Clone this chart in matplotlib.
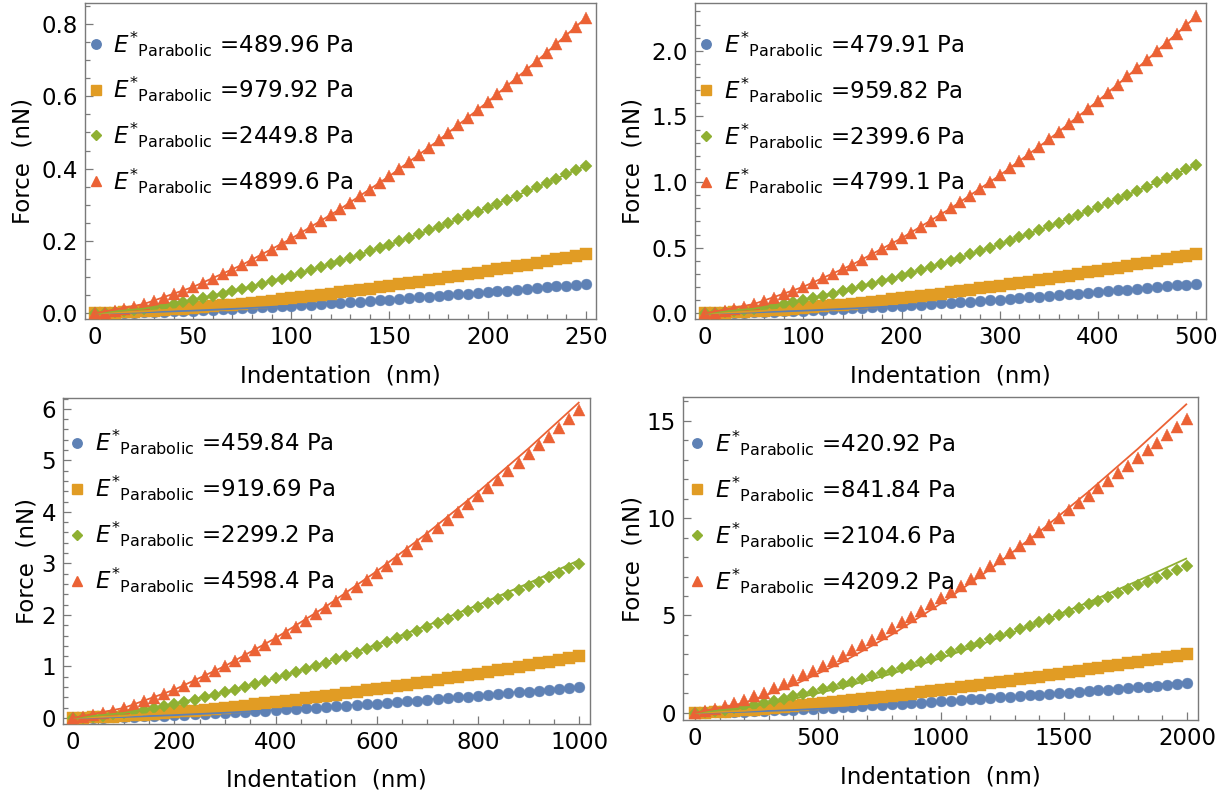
import matplotlib
matplotlib.use("Agg")
import matplotlib.pyplot as plt
from matplotlib.lines import Line2D
from matplotlib.ticker import MultipleLocator, FormatStrFormatter

plt.rcParams['font.family'] = ['DejaVu Sans']
plt.rcParams['mathtext.fontset'] = 'dejavusans'

# ---------------- data (nm, nN) ----------------
indent_250 = [0, 5, 10, 15, 20, 25, 30, 35, 40, 45, 50, 55, 60, 65, 70, 75, 80, 85, 90, 95, 100,
              105, 110, 115, 120, 125, 130, 135, 140, 145, 150, 155, 160, 165, 170, 175, 180, 185,
              190, 195, 200, 205, 210, 215, 220, 225, 230, 235, 240, 245, 250]
indent_500 = [0, 10, 20, 30, 40, 50, 60, 70, 80, 90, 100, 110, 120, 130, 140, 150, 160, 170, 180,
              190, 200, 210, 220, 230, 240, 250, 260, 270, 280, 290, 300, 310, 320, 330, 340, 350,
              360, 370, 380, 390, 400, 410, 420, 430, 440, 450, 460, 470, 480, 490, 500]
indent_1000 = [0, 20, 40, 60, 80, 100, 120, 140, 160, 180, 200, 220, 240, 260, 280, 300, 320, 340,
               360, 380, 400, 420, 440, 460, 480, 500, 520, 540, 560, 580, 600, 620, 640, 660, 680,
               700, 720, 740, 760, 780, 800, 820, 840, 860, 880, 900, 920, 940, 960, 980, 1000]
indent_2000 = [0, 40, 80, 120, 160, 200, 240, 280, 320, 360, 400, 440, 480, 520, 560, 600, 640,
               680, 720, 760, 800, 840, 880, 920, 960, 1000, 1040, 1080, 1120, 1160, 1200, 1240,
               1280, 1320, 1360, 1400, 1440, 1480, 1520, 1560, 1600, 1640, 1680, 1720, 1760, 1800,
               1840, 1880, 1920, 1960, 2000]

# panel A (0-250 nm)
a_blue = [0, 0.0002, 0.0007, 0.0012, 0.0018, 0.0026, 0.0034, 0.0043, 0.0052, 0.0062, 0.0073, 0.0084,
          0.0096, 0.0108, 0.0121, 0.0134, 0.0148, 0.0162, 0.0176, 0.0191, 0.0207, 0.0222, 0.0238,
          0.0255, 0.0272, 0.0289, 0.0306, 0.0324, 0.0342, 0.0361, 0.038, 0.0399, 0.0418, 0.0438,
          0.0458, 0.0478, 0.0499, 0.052, 0.0541, 0.0563, 0.0584, 0.0606, 0.0629, 0.0651, 0.0674,
          0.0697, 0.0721, 0.0744, 0.0768, 0.0792, 0.0817]
a_orange = [0, 0.0005, 0.0013, 0.0024, 0.0037, 0.0052, 0.0068, 0.0086, 0.0105, 0.0125, 0.0146, 0.0169,
            0.0192, 0.0217, 0.0242, 0.0268, 0.0296, 0.0324, 0.0353, 0.0383, 0.0413, 0.0445, 0.0477,
            0.051, 0.0543, 0.0577, 0.0612, 0.0648, 0.0684, 0.0721, 0.0759, 0.0797, 0.0836, 0.0876,
            0.0916, 0.0957, 0.0998, 0.104, 0.1082, 0.1125, 0.1169, 0.1213, 0.1257, 0.1303, 0.1348,
            0.1394, 0.1441, 0.1488, 0.1536, 0.1584, 0.1633]
a_green = [0, 0.0012, 0.0033, 0.006, 0.0092, 0.0129, 0.017, 0.0214, 0.0261, 0.0312, 0.0365, 0.0421,
           0.048, 0.0541, 0.0605, 0.0671, 0.0739, 0.0809, 0.0882, 0.0956, 0.1033, 0.1111, 0.1192,
           0.1274, 0.1358, 0.1444, 0.1531, 0.162, 0.1711, 0.1804, 0.1898, 0.1993, 0.2091, 0.2189,
           0.229, 0.2391, 0.2494, 0.2599, 0.2705, 0.2813, 0.2922, 0.3032, 0.3143, 0.3256, 0.3371,
           0.3486, 0.3603, 0.3721, 0.3841, 0.3961, 0.4083]
a_red = [0, 0.002, 0.007, 0.012, 0.018, 0.026, 0.034, 0.043, 0.052, 0.062, 0.073, 0.084, 0.096,
         0.108, 0.121, 0.134, 0.148, 0.162, 0.176, 0.191, 0.207, 0.222, 0.238, 0.255, 0.272, 0.289,
         0.306, 0.324, 0.342, 0.361, 0.380, 0.399, 0.418, 0.438, 0.458, 0.478, 0.499, 0.520, 0.541,
         0.563, 0.584, 0.606, 0.629, 0.651, 0.674, 0.697, 0.721, 0.744, 0.768, 0.792, 0.817]

# panel B (0-500 nm)
b_blue = [0, 0.0006, 0.0018, 0.0033, 0.0051, 0.0072, 0.0094, 0.0119, 0.0145, 0.0173, 0.0202, 0.0233,
          0.0266, 0.03, 0.0335, 0.0372, 0.041, 0.0449, 0.0489, 0.053, 0.0572, 0.0616, 0.066, 0.0706,
          0.0752, 0.08, 0.0848, 0.0898, 0.0948, 0.0999, 0.1051, 0.1104, 0.1158, 0.1213, 0.1269,
          0.1325, 0.1382, 0.144, 0.1499, 0.1558, 0.1619, 0.168, 0.1742, 0.1804, 0.1868, 0.1932,
          0.1996, 0.2062, 0.2128, 0.2195, 0.2262]
b_orange = [0, 0.0013, 0.0036, 0.0066, 0.0102, 0.0143, 0.0188, 0.0237, 0.029, 0.0346, 0.0405, 0.0467,
            0.0532, 0.06, 0.067, 0.0743, 0.0819, 0.0897, 0.0977, 0.106, 0.1145, 0.1232, 0.1321,
            0.1412, 0.1505, 0.16, 0.1697, 0.1795, 0.1896, 0.1999, 0.2103, 0.2209, 0.2317, 0.2426,
            0.2537, 0.265, 0.2764, 0.288, 0.2998, 0.3117, 0.3238, 0.336, 0.3483, 0.3608, 0.3735,
            0.3863, 0.3993, 0.4124, 0.4256, 0.439, 0.4525]
b_green = [0, 0.0032, 0.009, 0.0166, 0.0256, 0.0358, 0.047, 0.0593, 0.0724, 0.0864, 0.1012, 0.1167,
           0.133, 0.15, 0.1676, 0.1859, 0.2048, 0.2243, 0.2444, 0.265, 0.2862, 0.3079, 0.3302,
           0.3529, 0.3762, 0.3999, 0.4242, 0.4489, 0.4741, 0.4997, 0.5257, 0.5522, 0.5792, 0.6065,
           0.6343, 0.6625, 0.6911, 0.7201, 0.7495, 0.7792, 0.8094, 0.8399, 0.8709, 0.9021, 0.9338,
           0.9658, 0.9982, 1.0309, 1.064, 1.0974, 1.1312]
b_red = [0, 0.0064, 0.0181, 0.0332, 0.0512, 0.0715, 0.094, 0.1185, 0.1448, 0.1728, 0.2023, 0.2334,
         0.266, 0.2999, 0.3352, 0.3717, 0.4095, 0.4485, 0.4887, 0.5299, 0.5723, 0.6158, 0.6603,
         0.7058, 0.7523, 0.7998, 0.8483, 0.8977, 0.9481, 0.9993, 1.0514, 1.1044, 1.1583, 1.213,
         1.2686, 1.3249, 1.3821, 1.4401, 1.4989, 1.5584, 1.6188, 1.6798, 1.7417, 1.8042, 1.8676,
         1.9316, 1.9963, 2.0618, 2.1279, 2.1948, 2.2623]

# panel C (0-1000 nm)
c_blue = [0, 0.0017, 0.0049, 0.009, 0.0139, 0.0193, 0.0254, 0.032, 0.0391, 0.0466, 0.0546, 0.0629,
          0.0717, 0.0808, 0.0902, 0.1, 0.1101, 0.1206, 0.1313, 0.1423, 0.1536, 0.1652, 0.1771,
          0.1892, 0.2015, 0.2142, 0.227, 0.2401, 0.2535, 0.2671, 0.2808, 0.2949, 0.3091, 0.3235,
          0.3382, 0.353, 0.3681, 0.3834, 0.3988, 0.4145, 0.4303, 0.4463, 0.4625, 0.4789, 0.4954,
          0.5122, 0.5291, 0.5462, 0.5634, 0.5808, 0.5984]
c_orange = [0, 0.0035, 0.0098, 0.018, 0.0277, 0.0387, 0.0508, 0.064, 0.0782, 0.0932, 0.1091, 0.1259,
            0.1433, 0.1615, 0.1805, 0.2, 0.2203, 0.2411, 0.2626, 0.2846, 0.3072, 0.3304, 0.3541,
            0.3783, 0.4031, 0.4283, 0.4541, 0.4803, 0.507, 0.5341, 0.5617, 0.5897, 0.6182, 0.6471,
            0.6764, 0.7061, 0.7362, 0.7667, 0.7976, 0.8289, 0.8605, 0.8926, 0.925, 0.9577, 0.9909,
            1.0243, 1.0582, 1.0923, 1.1268, 1.1616, 1.1968]
c_green = [0, 0.0087, 0.0245, 0.045, 0.0693, 0.0967, 0.1271, 0.1601, 0.1955, 0.2331, 0.2729, 0.3147,
           0.3584, 0.4039, 0.4512, 0.5001, 0.5507, 0.6028, 0.6565, 0.7116, 0.7681, 0.826, 0.8853,
           0.9459, 1.0077, 1.0708, 1.1352, 1.2007, 1.2674, 1.3353, 1.4042, 1.4743, 1.5455, 1.6177,
           1.6909, 1.7652, 1.8405, 1.9168, 1.994, 2.0723, 2.1514, 2.2315, 2.3125, 2.3944, 2.4772,
           2.5608, 2.6454, 2.7308, 2.817, 2.9041, 2.992]
c_red = [0, 0.0173, 0.049, 0.09, 0.1385, 0.1934, 0.2541, 0.3201, 0.3909, 0.4662, 0.5457, 0.6293,
         0.7167, 0.8077, 0.9023, 1.0002, 1.1013, 1.2056, 1.3129, 1.4231, 1.5361, 1.652, 1.7705,
         1.8917, 2.0154, 2.1416, 2.2703, 2.4014, 2.5348, 2.6705, 2.8084, 2.9486, 3.0909, 3.2353,
         3.3818, 3.5304, 3.6809, 3.8335, 3.988, 4.1445, 4.3027, 4.4629, 4.625, 4.7887, 4.9543,
         5.1216, 5.2908, 5.4616, 5.634, 5.8081, 5.9839]

# panel D (0-2000 nm)
d_blue = [0, 0.0074, 0.019, 0.0329, 0.0487, 0.0659, 0.0845, 0.1042, 0.1249, 0.1466, 0.1692, 0.1926,
          0.2168, 0.2418, 0.2674, 0.2937, 0.3206, 0.3482, 0.3763, 0.405, 0.4343, 0.4641, 0.4944,
          0.5253, 0.5565, 0.5883, 0.6205, 0.6532, 0.6864, 0.7199, 0.7538, 0.7882, 0.823, 0.8582,
          0.8937, 0.9297, 0.966, 1.0026, 1.0397, 1.0769, 1.1148, 1.1527, 1.1912, 1.23, 1.2691,
          1.3084, 1.3481, 1.3881, 1.4285, 1.469, 1.51]
d_orange = [0, 0.0148, 0.0379, 0.0658, 0.0973, 0.1318, 0.169, 0.2084, 0.2498, 0.2932, 0.3384, 0.3852,
            0.4336, 0.4836, 0.5348, 0.5873, 0.6412, 0.6963, 0.7526, 0.81, 0.8686, 0.9282, 0.9888,
            1.0506, 1.113, 1.1765, 1.2411, 1.3064, 1.3727, 1.4398, 1.5077, 1.5764, 1.6459, 1.7163,
            1.7873, 1.8593, 1.9319, 2.0053, 2.0794, 2.1539, 2.2296, 2.3054, 2.3823, 2.46, 2.5382,
            2.6168, 2.6962, 2.7761, 2.8569, 2.9381, 3.02]
d_green = [0, 0.0369, 0.0948, 0.1646, 0.2433, 0.3296, 0.4225, 0.521, 0.6246, 0.7331, 0.8461, 0.9631,
           1.084, 1.2089, 1.3369, 1.4683, 1.6031, 1.7408, 1.8816, 2.0251, 2.1715, 2.3205, 2.472,
           2.6264, 2.7825, 2.9414, 3.1027, 3.266, 3.4318, 3.5994, 3.7692, 3.9411, 4.1148, 4.2908,
           4.4683, 4.6483, 4.8298, 5.0132, 5.1984, 5.3847, 5.5741, 5.7635, 5.9558, 6.1501, 6.3455,
           6.542, 6.7406, 6.9404, 7.1423, 7.3452, 7.55]
d_red = [0, 0.0738, 0.1895, 0.3292, 0.4865, 0.6591, 0.845, 1.0419, 1.2491, 1.4661, 1.6921, 1.9262,
         2.1679, 2.4178, 2.6738, 2.9366, 3.2062, 3.4816, 3.7631, 4.0501, 4.3429, 4.641, 4.9439,
         5.2528, 5.565, 5.8827, 6.2053, 6.532, 6.8636, 7.1988, 7.5384, 7.8822, 8.2295, 8.5816,
         8.9365, 9.2965, 9.6595, 10.0264, 10.3968, 10.7693, 11.1482, 11.527, 11.9116, 12.3002,
         12.6909, 13.084, 13.4811, 13.8807, 14.2846, 14.6903, 15.1]

# parabolic (Hertz) fit curves
fit_x_a = [0, 25, 50, 75, 100, 125, 150, 175, 200, 225, 250]
fit_a_blue = [0, 0.0026, 0.0073, 0.0134, 0.0207, 0.0289, 0.038, 0.0478, 0.0584, 0.0697, 0.0817]
fit_a_orange = [0, 0.0052, 0.0146, 0.0268, 0.0413, 0.0577, 0.0759, 0.0957, 0.1169, 0.1394, 0.1633]
fit_a_green = [0, 0.0129, 0.0365, 0.0671, 0.1033, 0.1444, 0.1898, 0.2391, 0.2922, 0.3486, 0.4083]
fit_a_red = [0, 0.0258, 0.073, 0.1342, 0.2066, 0.2887, 0.3795, 0.4783, 0.5843, 0.6972, 0.8166]

fit_x_b = [0, 50, 100, 150, 200, 250, 300, 350, 400, 450, 500]
fit_b_blue = [0, 0.0072, 0.0202, 0.0372, 0.0572, 0.08, 0.1051, 0.1325, 0.1619, 0.1932, 0.2262]
fit_b_orange = [0, 0.0143, 0.0405, 0.0743, 0.1145, 0.16, 0.2103, 0.265, 0.3238, 0.3863, 0.4525]
fit_b_green = [0, 0.0358, 0.1012, 0.1859, 0.2862, 0.3999, 0.5257, 0.6625, 0.8094, 0.9658, 1.1312]
fit_b_red = [0, 0.0715, 0.2023, 0.3717, 0.5723, 0.7998, 1.0514, 1.3249, 1.6188, 1.9316, 2.2623]

fit_x_c = [0, 100, 200, 300, 400, 500, 600, 700, 800, 900, 1000]
fit_c_blue = [0, 0.0194, 0.0548, 0.1007, 0.1551, 0.2168, 0.2849, 0.3591, 0.4387, 0.5235, 0.6131]
fit_c_orange = [0, 0.0388, 0.1097, 0.2015, 0.3102, 0.4335, 0.5699, 0.7181, 0.8774, 1.0469, 1.2262]
fit_c_green = [0, 0.097, 0.2742, 0.5037, 0.7755, 1.0838, 1.4247, 1.7953, 2.1935, 2.6174, 3.0655]
fit_c_red = [0, 0.1939, 0.5484, 1.0075, 1.551, 2.1676, 2.8494, 3.5907, 4.387, 5.2347, 6.131]

fit_x_d = [0, 200, 400, 600, 800, 1000, 1200, 1400, 1600, 1800, 2000]
fit_d_blue = [0, 0.0502, 0.1419, 0.2608, 0.4015, 0.5611, 0.7376, 0.9295, 1.1356, 1.355, 1.587]
fit_d_orange = [0, 0.1004, 0.284, 0.5217, 0.8032, 1.1225, 1.4756, 1.8595, 2.2718, 2.7109, 3.175]
fit_d_green = [0, 0.251, 0.7099, 1.3042, 2.0079, 2.8061, 3.6888, 4.6484, 5.6793, 6.7767, 7.937]
fit_d_red = [0, 0.502, 1.4198, 2.6084, 4.0158, 5.6123, 7.3776, 9.2968, 11.3585, 13.5534, 15.874]

e_a = ["489.96", "979.92", "2449.8", "4899.6"]
e_b = ["479.91", "959.82", "2399.6", "4799.1"]
e_c = ["459.84", "919.69", "2299.2", "4598.4"]
e_d = ["420.92", "841.84", "2104.6", "4209.2"]

# ---------------- style ----------------
COLORS = ['#5E81B5', '#E19C24', '#8FB032', '#EB6235']
MARKERS = ['o', 's', 'D', '^']
MSIZES = [7.8, 8.4, 6.0, 8.6]
LEG_MS = [6.8, 7.0, 4.6, 7.4]
FRAME = '#7a7a7a'
FS = 16.5

fig = plt.figure(figsize=(12.3, 8.0), dpi=100)
W, H = 1230.0, 800.0

def rect(l, t, r, b):
    return [l / W, 1 - b / H, (r - l) / W, (b - t) / H]

panels = [
    dict(px=(85, 3, 596, 319), x=indent_250, ys=[a_blue, a_orange, a_green, a_red],
         fx=fit_x_a, fys=[fit_a_blue, fit_a_orange, fit_a_green, fit_a_red], e=e_a,
         xlim=(-5.1, 255.2), ylim=(-0.0158, 0.858), xmaj=50, xmin=10, ymaj=0.2, ymin=0.05,
         yfmt='%.1f', ylab_x=-0.098, xlab_y=-0.145, leg=(10.7, 28.3, 41, 45.6)),
    dict(px=(695, 3, 1206, 319), x=indent_500, ys=[b_blue, b_orange, b_green, b_red],
         fx=fit_x_b, fys=[fit_b_blue, fit_b_orange, fit_b_green, fit_b_red], e=e_b,
         xlim=(-10.2, 509.9), ylim=(-0.043, 2.364), xmaj=100, xmin=20, ymaj=0.5, ymin=0.1,
         yfmt='%.1f', ylab_x=-0.098, xlab_y=-0.145, leg=(11, 28.5, 41.3, 45.8)),
    dict(px=(63, 398, 590, 724), x=indent_1000, ys=[c_blue, c_orange, c_green, c_red],
         fx=fit_x_c, fys=[fit_c_blue, fit_c_orange, fit_c_green, fit_c_red], e=e_c,
         xlim=(-19.7, 1021), ylim=(-0.117, 6.21), xmaj=200, xmin=50, ymaj=1, ymin=0.2,
         yfmt='%d', ylab_x=-0.046, xlab_y=-0.138, leg=(14, 32, 44.7, 46.0)),
    dict(px=(683, 397, 1198, 720), x=indent_2000, ys=[d_blue, d_orange, d_green, d_red],
         fx=fit_x_d, fys=[fit_d_blue, fit_d_orange, fit_d_green, fit_d_red], e=e_d,
         xlim=(-49, 2045), ylim=(-0.37, 16.22), xmaj=500, xmin=100, ymaj=5, ymin=1,
         yfmt='%d', ylab_x=-0.075, xlab_y=-0.142, leg=(14, 32, 46.3, 46.0)),
]

for p in panels:
    l, t, r, b = p['px']
    ax = fig.add_axes(rect(l, t, r, b))
    for k in range(4):
        ax.plot(p['x'], p['ys'][k], linestyle='none', marker=MARKERS[k], ms=MSIZES[k],
                color=COLORS[k], mec=COLORS[k], mew=0.3, zorder=2 + k, clip_on=False)
    for k in range(4):
        ax.plot(p['fx'], p['fys'][k], color=COLORS[k], lw=1.3, zorder=10, solid_capstyle='butt')
    ax.set_xlim(*p['xlim'])
    ax.set_ylim(*p['ylim'])
    ax.xaxis.set_major_locator(MultipleLocator(p['xmaj']))
    ax.xaxis.set_minor_locator(MultipleLocator(p['xmin']))
    ax.yaxis.set_major_locator(MultipleLocator(p['ymaj']))
    ax.yaxis.set_minor_locator(MultipleLocator(p['ymin']))
    ax.yaxis.set_major_formatter(FormatStrFormatter(p['yfmt']))
    ax.tick_params(which='both', direction='in', color=FRAME, width=0.9,
                   top=False, right=False, labelsize=FS, labelcolor='black', pad=5)
    ax.tick_params(which='major', length=6)
    ax.tick_params(which='minor', length=3.5)
    for s in ax.spines.values():
        s.set_color(FRAME)
        s.set_linewidth(1.0)
    ax.set_xlabel('Indentation  (nm)', fontsize=FS)
    ax.set_ylabel('Force  (nN)', fontsize=FS)
    ax.xaxis.set_label_coords(0.5, p['xlab_y'])
    ax.yaxis.set_label_coords(p['ylab_x'], 0.5)

    # legend, placed entry by entry (marker + label)
    mx, tx, y0, dy = p['leg']
    for k in range(4):
        yc = t + y0 + dy * k
        fig.add_artist(Line2D([(l + mx) / W], [1 - yc / H], transform=fig.transFigure,
                              linestyle='none', marker=MARKERS[k], ms=LEG_MS[k],
                              color=COLORS[k], mec=COLORS[k]))
        label = r'${E^{*}}_{\mathrm{Parabolic}}$ =' + p['e'][k] + ' Pa'
        fig.text((l + tx) / W, 1 - (yc + 8.7) / H, label, fontsize=FS,
                 ha='left', va='baseline')

fig.savefig('out.png', dpi=100, facecolor='white')
